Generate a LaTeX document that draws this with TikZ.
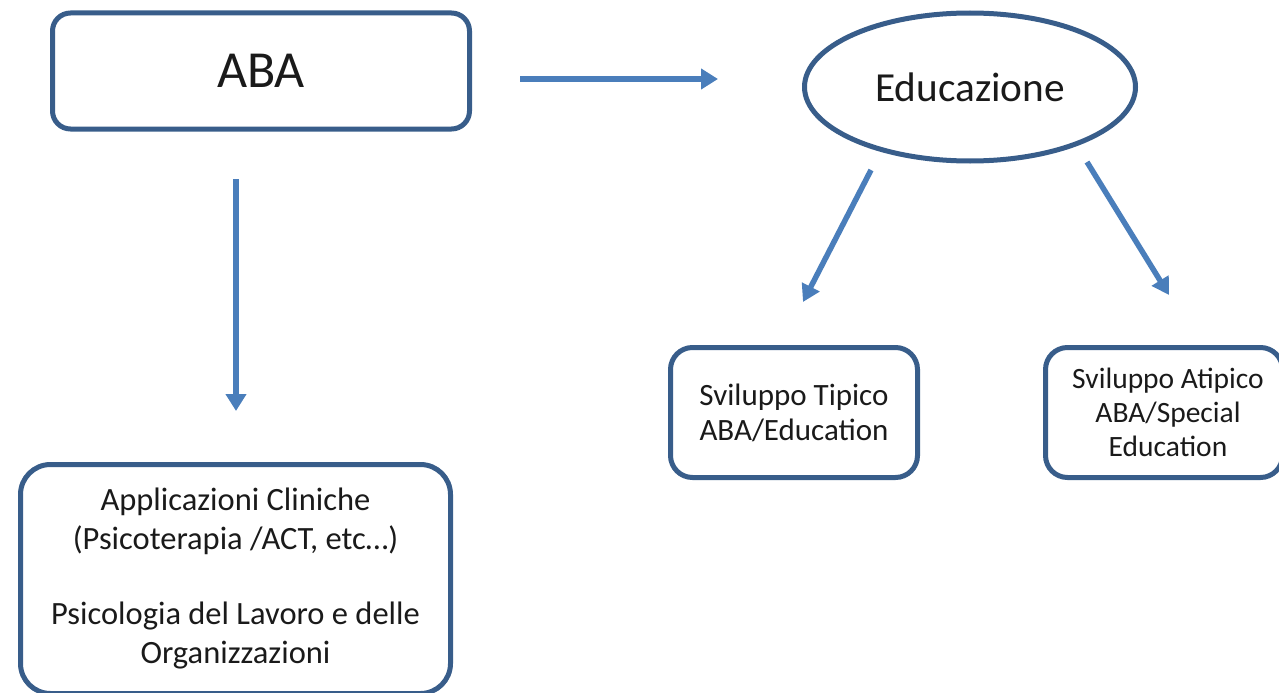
\documentclass[tikz,border=0pt]{standalone}
\usepackage{fontspec}
\setmainfont{Carlito}
\usetikzlibrary{arrows.meta,shapes.geometric}
\definecolor{boxline}{HTML}{385D8A}
\definecolor{arrowblue}{HTML}{4A7EBB}
\definecolor{ink}{HTML}{1A1A1A}
\begin{document}
\begin{tikzpicture}[x=1pt,y=-1pt,
  box/.style={draw=boxline, line width=5pt, fill=white, text=ink, align=center, inner sep=0pt},
  boxtext/.style={text=ink, align=center, inner sep=0pt},
  link/.style={draw=arrowblue, line width=6pt, -{Triangle[length=17pt,width=20pt]}},
  thinlink/.style={draw=arrowblue, line width=5.5pt, -{Triangle[length=17pt,width=19pt]}},
]
\useasboundingbox (0,0) rectangle (1279,693);

% main concept and its two branches
\node[box, rounded corners=18pt, minimum width=417pt, minimum height=116pt,
      font=\fontsize{52}{62}\selectfont] (aba) at (261,71) {ABA};
\node[box, ellipse, minimum width=331pt, minimum height=148pt,
      font=\fontsize{41.3}{49}\selectfont] (edu) at (970,87) {Educazione};

% education sub-areas
\node[box, rounded corners=22pt, minimum width=247pt, minimum height=130pt,
      font=\fontsize{31}{35}\selectfont] (tipico) at (794,412.5)
      {Sviluppo Tipico\\ABA/Education};
\node[box, rounded corners=22pt, minimum width=237pt, minimum height=130pt] (atipico) at (1164,412.5) {};
\node[boxtext, font=\fontsize{29.5}{34}\selectfont] (atipicotext) at (1168,412.5)
      {Sviluppo Atipico\\ABA/Special\\Education};

% clinical and organisational applications
\node[box, rounded corners=30pt, minimum width=430pt, minimum height=229pt,
      font=\fontsize{32.5}{39}\selectfont] (clin) at (235.5,579)
      {Applicazioni Cliniche\\(Psicoterapia /ACT, etc…)\\[36pt]Psicologia del Lavoro e delle\\Organizzazioni};

% connector end points
\coordinate (h1) at (520,79);
\coordinate (h2) at (718,79);
\coordinate (v1) at (236,179);
\coordinate (v2) at (236,411);
\coordinate (l1) at (871,170);
\coordinate (l2) at (803,302);
\coordinate (r1) at (1087,162);
\coordinate (r2) at (1169,295);

\draw[link] (h1) -- (h2);
\draw[link] (v1) -- (v2);
\draw[thinlink] (l1) -- (l2);
\draw[thinlink] (r1) -- (r2);
\end{tikzpicture}
\end{document}
